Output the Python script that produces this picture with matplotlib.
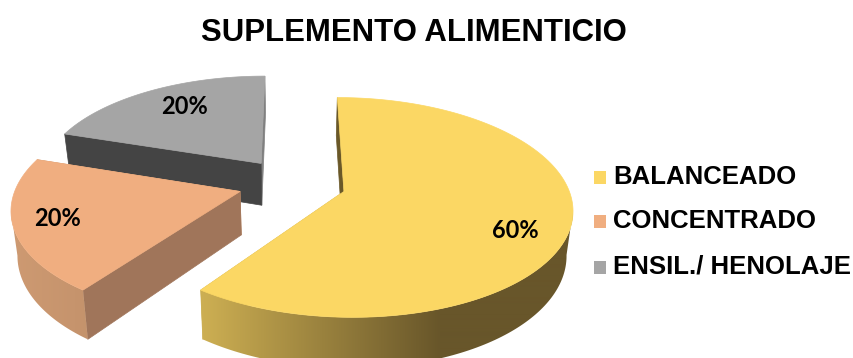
import numpy as np
import matplotlib
matplotlib.use("Agg")
import matplotlib.pyplot as plt
from matplotlib.patches import Polygon, Rectangle

title = "SUPLEMENTO ALIMENTICIO"
categories = ["BALANCEADO", "CONCENTRADO", "ENSIL./ HENOLAJE"]
values = [60, 20, 20]

top_colors = ["#FBD764", "#F0AE80", "#A5A5A5"]
start_cut = ["#6A5828", "#A0755A", "#444444"]  # flat faces left by the explode
end_cut = ["#CCAE52", "#CE9A72", "#808080"]
wall_left = ["#CCAE52", "#CE9A72", "#444444"]
wall_right = ["#68562A", "#BE8E68", "#444444"]
wall_span = [(205, 440), (10, 140), (60, 270)]
label_xy = [(515, 230), (58, 218), (185, 107)]

# 3d pie projection, everything in pixels
vx, vy = 292, 183.5
radius = 223
explode = 54
squash = 0.472
persp = 0.000645
depth = 43
shrink = 0.977


def project(px, py, lower=False):
    w = 1 + persp * py
    x = px / w
    y = vy - squash * py / w
    if lower:
        return vx + x * shrink, y + depth / w
    return vx + x, y


fig = plt.figure(figsize=(8.54, 3.58), dpi=100)
ax = fig.add_axes([0, 0, 1, 1])
ax.axis("off")

# slices run clockwise from 12 o'clock, yellow first, drawn back to front
starts = np.cumsum([0] + values[:-1]) / sum(values) * 2 * np.pi
ends = np.cumsum(values) / sum(values) * 2 * np.pi
for n, i in enumerate([2, 1, 0]):
    base = 10 * (n + 1)  # images default below patches, so order by hand
    mid = (starts[i] + ends[i]) / 2
    cx, cy = explode * np.sin(mid), explode * np.cos(mid)
    th = np.linspace(starts[i], ends[i], 200)
    rim_x = cx + radius * np.sin(th)
    rim_y = cy + radius * np.cos(th)

    # flat cut faces
    for j, col in [(-1, end_cut[i]), (0, start_cut[i])]:
        pts = [project(cx, cy), project(rim_x[j], rim_y[j]),
               project(rim_x[j], rim_y[j], True), project(cx, cy, True)]
        ax.add_patch(Polygon(pts, closed=True, fc=col, ec=col, lw=0.5, zorder=base))

    # outer wall, only the part of the rim facing the viewer, shaded along x
    upper = np.array([project(a, b) for a, b in zip(rim_x, rim_y)])
    lower = np.array([project(a, b, True) for a, b in zip(rim_x, rim_y)])
    front = np.where(np.diff(upper[:, 0]) < 0)[0]
    if len(front):
        upper_f = upper[front[0]:front[-1] + 2]
        lower_f = lower[front[0]:front[-1] + 2]
        wall = Polygon(np.vstack([upper_f, lower_f[::-1]]), closed=True, fc="none", ec="none")
        ax.add_patch(wall)
        x0, x1 = wall_span[i]
        c0 = np.array(matplotlib.colors.to_rgb(wall_left[i]))
        c1 = np.array(matplotlib.colors.to_rgb(wall_right[i]))
        ramp = np.clip((np.arange(854) + 0.5 - x0) / (x1 - x0), 0, 1)[:, None]
        grad = (c0 + (c1 - c0) * ramp)[None, :, :]
        im = ax.imshow(grad, extent=(0, 854, 358, 0), aspect="auto",
                       interpolation="bilinear", zorder=base + 1)
        im.set_clip_path(wall)

    # top face
    face = np.vstack([project(cx, cy), upper])
    ax.add_patch(Polygon(face, closed=True, fc=top_colors[i], ec=top_colors[i], lw=0.5,
                         zorder=base + 2))

ax.set_xlim(0, 854)
ax.set_ylim(358, 0)

for v, (lx, ly) in zip(values, label_xy):
    ax.text(lx, ly, f"{v}%", ha="center", va="center", fontsize=17,
            fontfamily="Lato", fontweight="bold", color="black", zorder=50)

ax.text(414, 33, title, ha="center", va="center", fontsize=22.4,
        fontfamily="Liberation Sans", fontweight="bold", color="black", zorder=50)

# legend
legend_y = [177, 221, 267]
for name, col, ly in zip(categories, top_colors, legend_y):
    ax.add_patch(Rectangle((594, ly - 6), 12.5, 12.5, fc=col, ec="none", zorder=50))
    ax.text(613, ly, name, ha="left", va="center", fontsize=18.5,
            fontfamily="Liberation Sans", fontweight="bold", color="black", zorder=50)

fig.savefig("out.png", dpi=100)
